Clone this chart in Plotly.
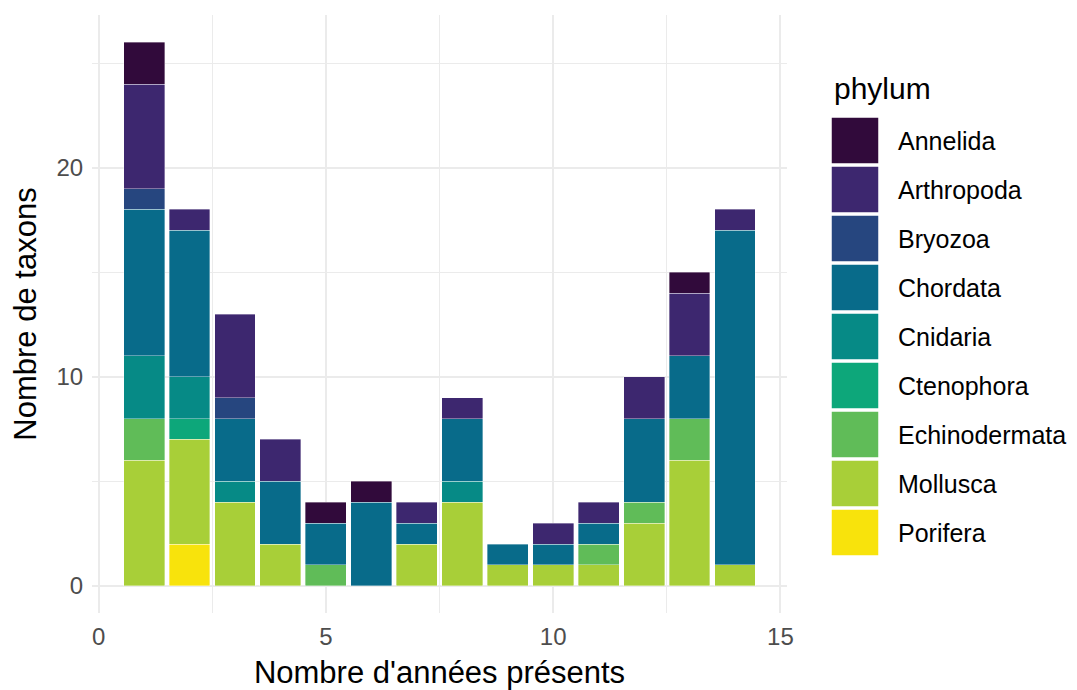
import plotly.graph_objects as go

years = list(range(1, 15))
phyla = ["Annelida", "Arthropoda", "Bryozoa", "Chordata", "Cnidaria",
         "Ctenophora", "Echinodermata", "Mollusca", "Porifera"]

annelida      = [2, 0, 0, 0, 1, 1, 0, 0, 0, 0, 0, 0, 1, 0]
arthropoda    = [5, 1, 4, 2, 0, 0, 1, 1, 0, 1, 1, 2, 3, 1]
bryozoa       = [1, 0, 1, 0, 0, 0, 0, 0, 0, 0, 0, 0, 0, 0]
chordata      = [7, 7, 3, 3, 2, 4, 1, 3, 1, 1, 1, 4, 3, 16]
cnidaria      = [3, 2, 1, 0, 0, 0, 0, 1, 0, 0, 0, 0, 0, 0]
ctenophora    = [0, 1, 0, 0, 0, 0, 0, 0, 0, 0, 0, 0, 0, 0]
echinodermata = [2, 0, 0, 0, 1, 0, 0, 0, 0, 0, 1, 1, 2, 0]
mollusca      = [6, 5, 4, 2, 0, 0, 2, 4, 1, 1, 1, 3, 6, 1]
porifera      = [0, 2, 0, 0, 0, 0, 0, 0, 0, 0, 0, 0, 0, 0]

values = {
    "Annelida": annelida, "Arthropoda": arthropoda, "Bryozoa": bryozoa,
    "Chordata": chordata, "Cnidaria": cnidaria, "Ctenophora": ctenophora,
    "Echinodermata": echinodermata, "Mollusca": mollusca, "Porifera": porifera,
}
colors = {
    "Annelida": "#310A3B", "Arthropoda": "#3D276F", "Bryozoa": "#26467F",
    "Chordata": "#086B8A", "Cnidaria": "#068A86", "Ctenophora": "#0DA77A",
    "Echinodermata": "#60BC58", "Mollusca": "#A8CF38", "Porifera": "#F8E30C",
}

FONT = "Liberation Sans, Arial, sans-serif"

fig = go.Figure()
for p in reversed(phyla):
    ys = [v if v > 0 else None for v in values[p]]
    fig.add_trace(go.Bar(
        x=years, y=ys, name=p, width=0.9,
        marker=dict(color=colors[p], line=dict(color="rgba(255,255,255,0.6)", width=0.6)),
        showlegend=False,
    ))

# page offset of the figure (browser body margin)
OFF = 8
W, H = 1077 - OFF, 690 - OFF
# plot area in page pixels
L, R, T, B = 92 - OFF, 787 - OFF, 15 - OFF, 613 - OFF
pw, ph = R - L, B - T

def px_x(px):
    return (px - OFF - L) / pw

def px_y(py):
    return (B - (py - OFF)) / ph

shapes = []
annotations = []
annotations.append(dict(x=px_x(832), y=px_y(88), xref="paper", yref="paper",
                        text="phylum", showarrow=False, xanchor="left", yanchor="middle",
                        font=dict(family=FONT, size=30, color="#000000")))
for i, p in enumerate(phyla):
    top = 117 + i * 49
    shapes.append(dict(type="rect", xref="paper", yref="paper",
                       x0=px_x(831), x1=px_x(879), y0=px_y(top + 47), y1=px_y(top),
                       fillcolor=colors[p], line=dict(color="white", width=1.5)))
    annotations.append(dict(x=px_x(896), y=px_y(top + 24), xref="paper", yref="paper",
                            text=p, showarrow=False, xanchor="left", yanchor="middle",
                            font=dict(family=FONT, size=25, color="#000000")))

fig.update_layout(
    width=W, height=H,
    barmode="stack", bargap=0.1,
    plot_bgcolor="white", paper_bgcolor="white",
    margin=dict(l=L, r=W - R, t=T, b=H - B, autoexpand=False),
    font=dict(family=FONT),
    shapes=shapes, annotations=annotations,
    xaxis=dict(
        range=[-0.145, 15.145], tickvals=[0, 5, 10, 15], ticktext=["0", "5", "10", "15"],
        showgrid=True, gridcolor="#EBEBEB", gridwidth=1.6, zeroline=False, showline=False,
        ticks="outside", ticklen=2, tickcolor="rgba(0,0,0,0)",
        tickfont=dict(family=FONT, size=24, color="#4D4D4D"),
        minor=dict(tickvals=[2.5, 7.5, 12.5], showgrid=True, gridcolor="#EBEBEB", gridwidth=1.2),
        title=dict(text="Nombre d'années présents", standoff=13,
                   font=dict(family=FONT, size=31, color="#000000")),
    ),
    yaxis=dict(
        range=[-1.3, 27.3], tickvals=[0, 10, 20], ticktext=["0", "10", "20"],
        showgrid=True, gridcolor="#EBEBEB", gridwidth=1.6, zeroline=False, showline=False,
        ticks="outside", ticklen=3, tickcolor="rgba(0,0,0,0)",
        tickfont=dict(family=FONT, size=24, color="#4D4D4D"),
        minor=dict(tickvals=[5, 15, 25], showgrid=True, gridcolor="#EBEBEB", gridwidth=1.2),
        title=dict(text="Nombre de taxons", standoff=10,
                   font=dict(family=FONT, size=31, color="#000000")),
    ),
)

fig.write_html("out.html")
